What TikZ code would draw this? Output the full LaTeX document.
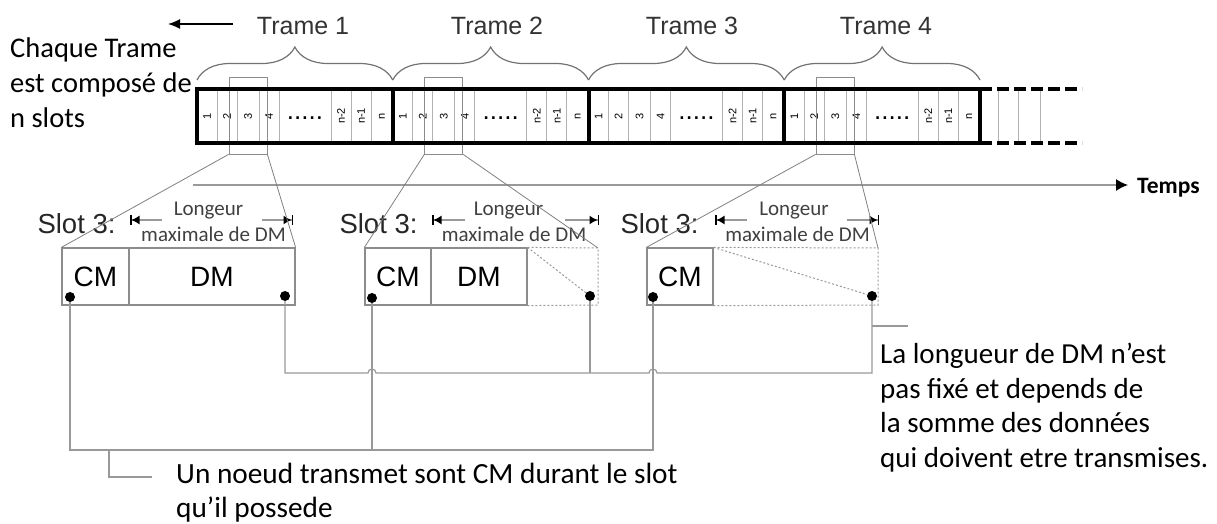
\documentclass[tikz,border=0pt]{standalone}
\usepackage{fontspec}
\setmainfont{Carlito}
\newfontfamily\arialf{Liberation Sans}
\usetikzlibrary{arrows.meta,decorations.pathreplacing}
\begin{document}
\begin{tikzpicture}[x=1pt,y=-1pt,
  txt/.style={inner sep=0pt, font=\fontsize{29}{34.5}\selectfont, align=left},
  ttl/.style={inner sep=0pt, font=\arialf\fontsize{25}{30}\selectfont, text=black!80},
  slotlbl/.style={inner sep=0pt, font=\arialf\fontsize{27.5}{30}\selectfont, text=black!85},
  cell/.style={draw=black!45, line width=1.2pt, minimum height=57pt, inner sep=0pt, font=\arialf\fontsize{28}{30}\selectfont},
  dotn/.style={circle, fill=black, inner sep=0pt, minimum size=10pt},
  bus/.style={draw=black!40, line width=1.2pt},
  zoomline/.style={draw=black!50, line width=0.8pt},
  dotline/.style={draw=black!40, line width=1pt, dash pattern=on 2pt off 2pt},
  dimL/.style={draw=black!40, line width=1.2pt, {Bar[width=10pt,line width=1.5pt,color=black]Latex[length=8pt,width=9pt,color=black]}-},
  dimR/.style={draw=black!40, line width=1.2pt, -{Latex[length=8pt,width=9pt,color=black]Bar[width=10pt,line width=1.5pt,color=black]}},
  dimtxt/.style={inner sep=0pt, font=\fontsize{21}{26}\selectfont, text=black!75},
  sepline/.style={draw=black!30, line width=0.8pt},
  numlbl/.style={inner sep=0pt, font=\arialf\fontsize{11}{11}\selectfont, rotate=90},
  brc/.style={draw=black!55, line width=1.2pt, decorate, decoration={brace, amplitude=33pt}},
  hbox/.style={draw=black!45, line width=0.8pt, minimum width=38pt, minimum height=77pt, inner sep=0pt},
]
\useasboundingbox (0,0) rectangle (1217,524);

% ---- top texts
\node[txt, anchor=base west, font=\fontsize{28.5}{35}\selectfont] (chq) at (10,128) {Chaque Trame\\est composé de\\n slots};
\coordinate (la0) at (233,24);
\coordinate (la1) at (168,24);
\draw[line width=1.3pt, -{Latex[length=12pt,width=10pt]}] (la0) -- (la1);

\node[ttl, anchor=base] (t1) at (303,35) {Trame 1};
\node[ttl, anchor=base] (t2) at (497,35) {Trame 2};
\node[ttl, anchor=base] (t3) at (692,35) {Trame 3};
\node[ttl, anchor=base] (t4) at (886,35) {Trame 4};

% ---- braces
\foreach \a/\b in {197/392.75, 392.75/588.5, 588.5/784.25, 784.25/980}
  \draw[brc] (\a,80) -- (\b,80);

% ---- slots of each frame
\foreach \xo in {197,392.75,588.5,784.25} {
  \foreach \d in {20,40,62,82,134,154,174}
    \draw[sepline] (\xo+\d,91) -- (\xo+\d,141);
  \node[numlbl] at (\xo+10,116) {1};
  \node[numlbl] at (\xo+30,116) {2};
  \node[numlbl] at (\xo+51,116) {3};
  \node[numlbl] at (\xo+72,116) {4};
  \node[inner sep=0pt, anchor=base, font=\arialf\fontsize{26}{26}\selectfont] at (\xo+108,120) {.....};
  \node[numlbl] at (\xo+144,116) {n-2};
  \node[numlbl] at (\xo+164,116) {n-1};
  \node[numlbl] at (\xo+185,116) {n};
}
% continuation
\foreach \x in {998,1018,1040}
  \draw[sepline] (\x,91) -- (\x,141);

% highlight boxes
\node[hbox] (hb1) at (248,115.5) {};
\node[hbox] (hb2) at (443.75,115.5) {};
\node[hbox] (hb4) at (835,115.5) {};

% main bar
\draw[line width=4pt] (197,89) rectangle (980,143);
\foreach \x in {392.75,588.5,784.25}
  \draw[line width=4pt] (\x,89) -- (\x,143);
\draw[line width=4pt, dash pattern=on 12pt off 5pt] (980,89) -- (1082,89);
\draw[line width=4pt, dash pattern=on 12pt off 5pt] (980,143) -- (1082,143);

% time axis
\coordinate (ta0) at (193,185);
\coordinate (ta1) at (1128,185);
\draw[draw=black!40, line width=1.5pt, -{Latex[length=12pt,width=12pt,color=black]}] (ta0) -- (ta1);
\node[inner sep=0pt, anchor=base west, font=\bfseries\fontsize{23.5}{26}\selectfont] (temps) at (1137,193) {Temps};

% ---- detail 1
\node[slotlbl, anchor=base] (sl1) at (76.5,233) {Slot 3:};
\node[cell, minimum width=67pt] (cm1) at (95.5,276.5) {CM};
\node[cell, minimum width=166pt] (dm1) at (212,276.5) {DM};
\node[dimtxt, anchor=base] (lg1) at (208.5,215) {Longeur};
\node[dimtxt, anchor=base] (mx1) at (213.5,241) {maximale de DM};
\coordinate (a1l) at (130,220); \coordinate (a1m) at (162,220);
\coordinate (a1n) at (262,220); \coordinate (a1r) at (293,220);
\draw[dimL] (a1l) -- (a1m);
\draw[dimR] (a1n) -- (a1r);

% ---- detail 2
\node[slotlbl, anchor=base] (sl2) at (378.5,233) {Slot 3:};
\node[cell, minimum width=66pt] (cm2) at (398,276.5) {CM};
\node[cell, minimum width=96pt] (dm2) at (479,276.5) {DM};
\coordinate (e2t) at (598,248);
\coordinate (e2b) at (598,305);
\draw[dotline] (dm2.north east) -- (e2t) -- (e2b) -- (dm2.south east);
\node[dimtxt, anchor=base] (lg2) at (508.5,215) {Longeur};
\node[dimtxt, anchor=base] (mx2) at (514,241) {maximale de DM};
\coordinate (a2l) at (432,220); \coordinate (a2m) at (465,220);
\coordinate (a2n) at (565,220); \coordinate (a2r) at (599,220);
\draw[dimL] (a2l) -- (a2m);
\draw[dimR] (a2n) -- (a2r);

% ---- detail 3
\node[slotlbl, anchor=base] (sl3) at (659.5,233) {Slot 3:};
\node[cell, minimum width=66pt] (cm3) at (680,276.5) {CM};
\coordinate (e3t) at (878,248);
\coordinate (e3b) at (878,305);
\draw[dotline] (cm3.north east) -- (e3t) -- (e3b) -- (cm3.south east);
\node[dimtxt, anchor=base] (lg3) at (794,215) {Longeur};
\node[dimtxt, anchor=base] (mx3) at (797.5,241) {maximale de DM};
\coordinate (a3l) at (715,220); \coordinate (a3m) at (747,220);
\coordinate (a3n) at (847,220); \coordinate (a3r) at (879,220);
\draw[dimL] (a3l) -- (a3m);
\draw[dimR] (a3n) -- (a3r);

% ---- zoom lines
\draw[zoomline] (hb1.south west) -- (cm1.north west);
\draw[zoomline] (hb1.south east) -- (dm1.north east);
\draw[zoomline] (hb2.south west) -- (cm2.north west);
\draw[zoomline] (hb2.south east) -- (e2t);
\draw[zoomline] (hb4.south west) -- (cm3.north west);
\draw[zoomline] (hb4.south east) -- (e3t);

% ---- dots
\node[dotn] (d1) at (70,297) {};
\node[dotn] (d2) at (285,296) {};
\node[dotn] (d3) at (372,298) {};
\node[dotn] (d4) at (590,296) {};
\node[dotn] (d5) at (653,297) {};
\node[dotn] (d6) at (872,296) {};
\draw[dotline] (dm2.north east) -- (d4);
\draw[dotline] (cm3.north east) -- (d6);

% ---- buses
\coordinate (lowbus) at (0,450);
\coordinate (upbus) at (0,373);
\draw[bus] (d1) -- (d1 |- lowbus) -- (d5 |- lowbus) -- (d5);
\draw[bus] (d3) -- (d3 |- lowbus);
\draw[bus] (d2) -- (d2 |- upbus) -- (368,373) arc[start angle=180, end angle=360, radius=4]
  -- (649,373) arc[start angle=180, end angle=360, radius=4] -- (d6 |- upbus) -- (d6);
\draw[bus] (d4) -- (d4 |- upbus);

% ---- leaders and notes
\coordinate (ld1) at (109,450);
\coordinate (ld1e) at (152,477);
\draw[bus] (ld1) |- (ld1e);
\coordinate (ld2) at (872,326);
\coordinate (ld2e) at (908,326);
\draw[bus] (ld2) -- (ld2e);
\node[txt, anchor=base west, font=\fontsize{29.3}{34}\selectfont] (note1) at (176,517) {Un noeud transmet sont CM durant le slot\\qu’il possede};
\node[txt, anchor=base west] (note2) at (880,467) {La longueur de DM n’est\\pas fixé et depends de\\la somme des données\\qui doivent etre transmises.};
\end{tikzpicture}
\end{document}
